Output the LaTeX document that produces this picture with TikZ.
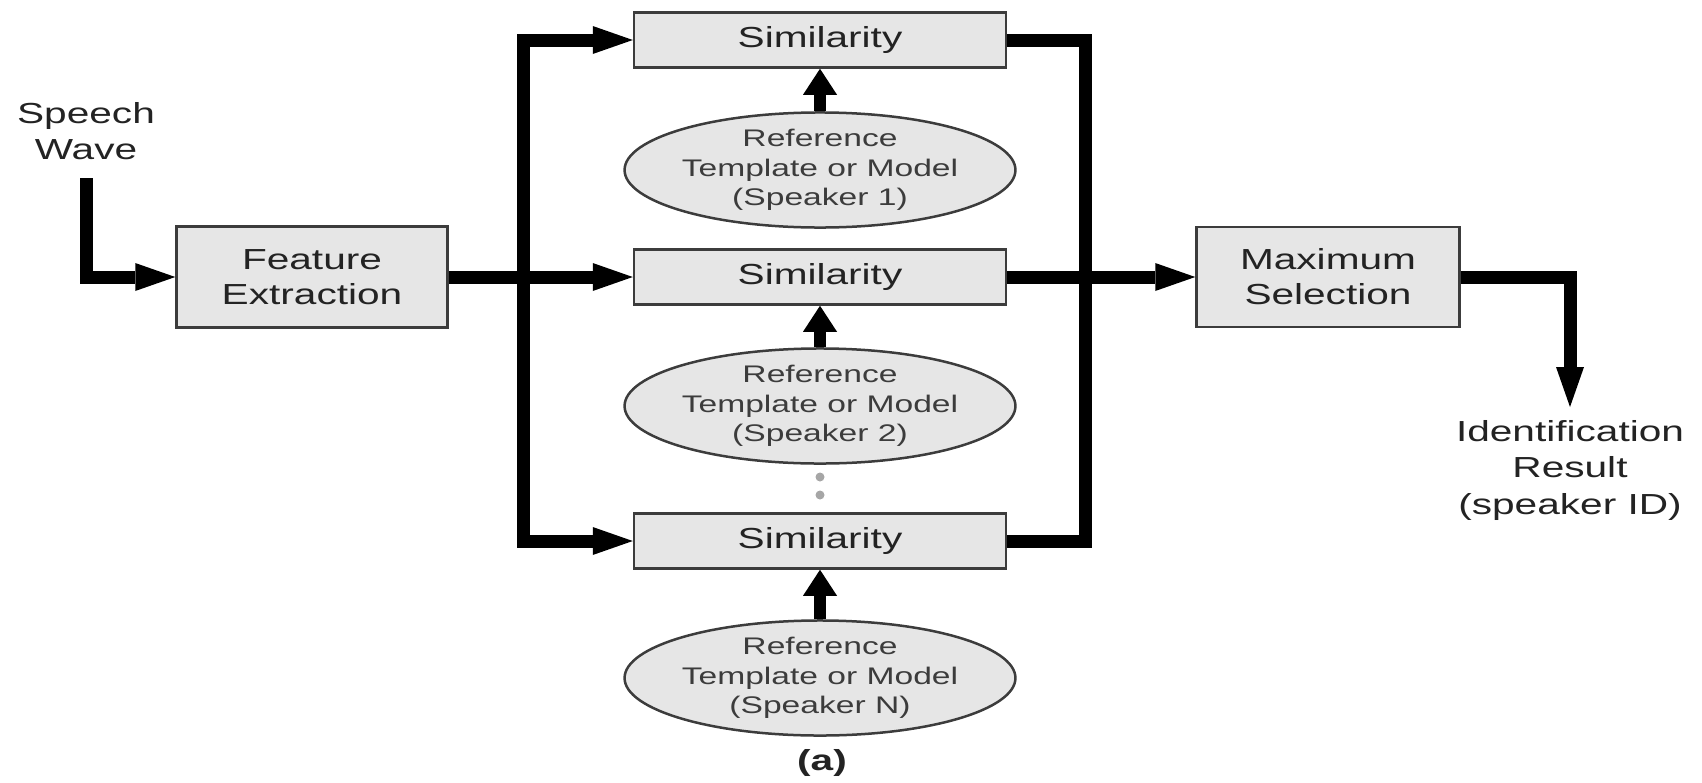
\documentclass[tikz,border=0pt]{standalone}
\usepackage{fontspec}
\setmainfont{Liberation Sans}[FakeStretch=1.4]
\usepackage{tikz}
\usetikzlibrary{arrows.meta,positioning,shapes.geometric}
\definecolor{boxgray}{RGB}{230,230,230}
\definecolor{edgegray}{RGB}{60,60,60}
\definecolor{inkgray}{RGB}{35,35,35}
\definecolor{softink}{RGB}{60,60,60}

\begin{document}
\begin{tikzpicture}[
 x=1pt,y=-1pt,
 blk/.style={rectangle,draw=edgegray,fill=boxgray,line width=2.5pt,inner sep=0pt,align=center,text=inkgray,font=\fontsize{29}{35}\selectfont},
 refell/.style={ellipse,draw=edgegray,fill=boxgray,line width=2.5pt,inner sep=0pt,minimum width=387pt,minimum height=114pt,align=center,text=softink,font=\fontsize{24}{29.5}\selectfont},
 lbl/.style={align=center,text=inkgray,font=\fontsize{29}{36.5}\selectfont,inner sep=0pt},
 bus/.style={line width=13pt},
 arr/.style={bus,-{Triangle[length=40pt,width=28pt,line width=0pt]}},
 uparr/.style={line width=12pt,-{Triangle[length=26pt,width=34pt,line width=0pt]}},
 dot/.style={circle,fill=gray!70,inner sep=0pt,minimum size=9pt}
]
\useasboundingbox (0,0) rectangle (1702,782);
\node[lbl,anchor=south] (speech) at (86,160) {Speech\\Wave};
\node[blk,minimum width=271pt,minimum height=101pt] (fe) at (312,277) {Feature\\Extraction};
\node[blk,minimum width=263pt,minimum height=100pt] (maxsel) at (1328,277) {Maximum\\Selection};
\node[lbl,anchor=north,inner ysep=13pt] (ident) at (1570,407) {Identification\\Result\\(speaker ID)};
\foreach \i/\sy/\ry in {1/40/170,2/277/406,N/541/678}{
  \node[blk,minimum width=372pt,minimum height=55pt] (sim\i) at (820,\sy) {Similarity};
  \node[refell] (ref\i) at (820,\ry) {Reference\\Template or Model\\(Speaker \i)};
  \draw[uparr] (ref\i) -- (sim\i);
}
\node[dot] (d1) at (820,477) {};
\node[dot] (d2) at (820,495) {};
\node[lbl,font=\bfseries\fontsize{29}{35}\selectfont] (cap) at (822,763) {(a)};
\coordinate (splitL) at (523,277);
\coordinate (joinR) at (1085,277);
\draw[arr,shorten <=18pt] (speech) |- (fe);
\draw[arr] (fe) -- (sim2);
\draw[arr] (splitL) |- (sim1);
\draw[arr] (splitL) |- (simN);
\draw[bus] (sim1) -| (joinR);
\draw[bus] (simN) -| (joinR);
\draw[arr] (sim2) -- (maxsel);
\draw[arr] (maxsel) -| (ident);
\end{tikzpicture}
\end{document}
